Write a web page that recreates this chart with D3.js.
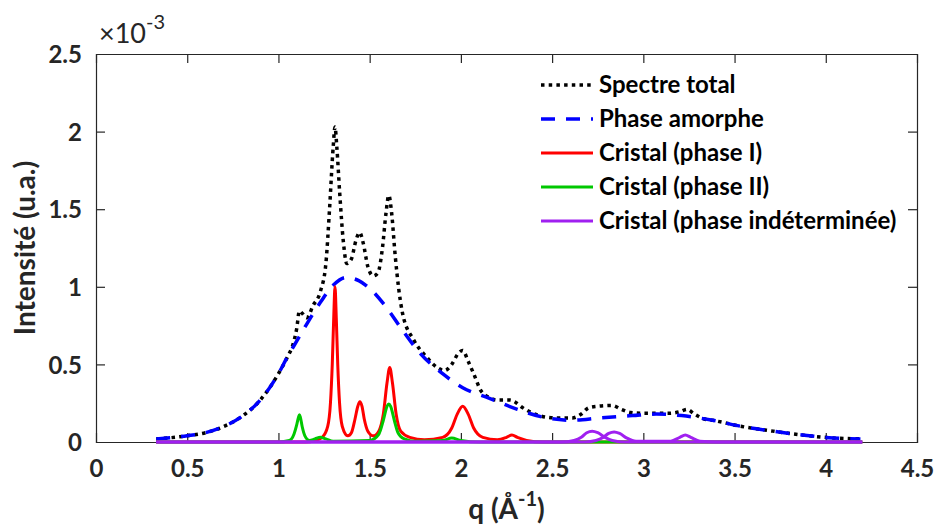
<!DOCTYPE html>
<html><head><meta charset="utf-8">
<script src="https://cdn.jsdelivr.net/npm/d3@7"></script>
<style>
body{margin:0;background:#fff;}
text{font-family:Lato,"Open Sans",sans-serif;}
</style></head>
<body><svg id="c" width="937" height="531"></svg>
<script>
// ---- data (q in Å^-1, intensity in 1e-3 a.u.) ----
const xTicks = [0,0.5,1,1.5,2,2.5,3,3.5,4,4.5];
const yTicks = [0,0.5,1,1.5,2,2.5];
const xTickLabels = ["0","0.5","1","1.5","2","2.5","3","3.5","4","4.5"];
const yTickLabels = ["0","0.5","1","1.5","2","2.5"];
const legendLabels = ["Spectre total","Phase amorphe","Cristal (phase I)","Cristal (phase II)","Cristal (phase indéterminée)"];

const totalSpectrum = [[0.33,0.02],[0.5,0.04],[0.6,0.06],[0.7,0.10],[0.8,0.165],[0.9,0.27],[1.0,0.44],[1.05,0.55],[1.08,0.63],[1.10,0.73],[1.115,0.845],[1.13,0.83],[1.155,0.80],[1.19,0.88],[1.23,0.97],[1.26,1.15],[1.28,1.50],[1.30,1.9],[1.31,2.03],[1.32,1.9],[1.336,1.60],[1.355,1.30],[1.375,1.15],[1.40,1.18],[1.425,1.30],[1.445,1.35],[1.465,1.28],[1.49,1.13],[1.52,1.07],[1.545,1.09],[1.57,1.25],[1.59,1.48],[1.605,1.59],[1.62,1.48],[1.64,1.20],[1.66,0.98],[1.68,0.83],[1.74,0.66],[1.81,0.55],[1.87,0.48],[1.91,0.46],[1.95,0.50],[1.985,0.57],[2.01,0.59],[2.04,0.52],[2.07,0.44],[2.11,0.33],[2.15,0.29],[2.20,0.27],[2.27,0.27],[2.30,0.255],[2.34,0.22],[2.43,0.17],[2.52,0.155],[2.61,0.155],[2.66,0.18],[2.70,0.22],[2.75,0.23],[2.83,0.235],[2.88,0.21],[2.93,0.19],[3.0,0.185],[3.13,0.185],[3.2,0.195],[3.24,0.21],[3.28,0.18],[3.33,0.15],[3.38,0.14],[3.54,0.10],[3.71,0.07],[3.87,0.045],[4.04,0.026],[4.19,0.02]];

const amorphous = [[0.33,0.02],[0.5,0.04],[0.6,0.06],[0.7,0.10],[0.8,0.165],[0.9,0.27],[1.0,0.44],[1.05,0.55],[1.10,0.65],[1.15,0.75],[1.23,0.90],[1.30,1.01],[1.37,1.06],[1.44,1.04],[1.49,1.0],[1.59,0.87],[1.68,0.72],[1.77,0.58],[1.90,0.44],[2.01,0.35],[2.16,0.28],[2.31,0.21],[2.45,0.16],[2.61,0.14],[2.76,0.155],[2.94,0.17],[3.07,0.18],[3.21,0.17],[3.38,0.14],[3.54,0.10],[3.71,0.07],[3.87,0.045],[4.04,0.026],[4.19,0.02]];

const phaseI = [[0.33,0],[1.15,0],[1.2,0.01],[1.24,0.03],[1.27,0.1],[1.285,0.25],[1.295,0.5],[1.303,0.8],[1.31,1.0],[1.317,0.8],[1.325,0.5],[1.335,0.25],[1.35,0.1],[1.38,0.04],[1.40,0.06],[1.42,0.15],[1.435,0.23],[1.446,0.26],[1.458,0.23],[1.47,0.15],[1.49,0.07],[1.52,0.04],[1.55,0.07],[1.575,0.18],[1.595,0.38],[1.61,0.48],[1.625,0.38],[1.645,0.18],[1.67,0.07],[1.72,0.03],[1.80,0.015],[1.9,0.03],[1.95,0.09],[1.98,0.18],[2.01,0.23],[2.04,0.18],[2.07,0.09],[2.12,0.03],[2.2,0.015],[2.25,0.03],[2.28,0.045],[2.31,0.03],[2.36,0.01],[2.45,0],[4.2,0]];

const phaseII = [[0.33,0],[1.0,0],[1.06,0.01],[1.085,0.05],[1.10,0.11],[1.11,0.16],[1.115,0.175],[1.12,0.16],[1.13,0.1],[1.145,0.04],[1.17,0.01],[1.2,0.02],[1.23,0.03],[1.26,0.02],[1.3,0.005],[1.5,0.01],[1.55,0.05],[1.575,0.14],[1.595,0.23],[1.605,0.245],[1.615,0.23],[1.635,0.14],[1.655,0.06],[1.67,0.035],[1.69,0.02],[1.75,0.005],[1.9,0.01],[1.95,0.025],[2.0,0.01],[2.1,0],[4.2,0]];

const phaseUndetA = [[0.33,0],[2.55,0],[2.62,0.01],[2.66,0.03],[2.69,0.06],[2.72,0.07],[2.75,0.06],[2.79,0.03],[2.83,0.01],[2.9,0],[4.2,0]];
const phaseUndetB = [[0.33,0],[2.68,0],[2.74,0.01],[2.78,0.03],[2.81,0.055],[2.84,0.065],[2.87,0.055],[2.91,0.025],[2.96,0.005],[3.15,0.005],[3.2,0.03],[3.23,0.045],[3.26,0.03],[3.31,0.005],[3.4,0],[4.2,0]];

// ---- layout ----
const svg = d3.select("#c");
const L=96, R=917, T=54, B=442;
const x = d3.scaleLinear().domain([0,4.5]).range([L,R]);
const y = d3.scaleLinear().domain([0,2.5]).range([B,T]);
const axisColor="#262626";

const gx = svg.append("g").attr("transform",`translate(0,${B})`)
  .call(d3.axisBottom(x).tickValues(xTicks).tickFormat((d,i)=>xTickLabels[i]).tickSize(-9).tickPadding(18));
const gx2 = svg.append("g").attr("transform",`translate(0,${T})`)
  .call(d3.axisTop(x).tickValues(xTicks).tickFormat("").tickSize(-9));
const gy = svg.append("g").attr("transform",`translate(${L},0)`)
  .call(d3.axisLeft(y).tickValues(yTicks).tickFormat((d,i)=>yTickLabels[i]).tickSize(-9).tickPadding(14));
const gy2 = svg.append("g").attr("transform",`translate(${R},0)`)
  .call(d3.axisRight(y).tickValues(yTicks).tickFormat("").tickSize(-9));
[gx,gx2,gy,gy2].forEach(g=>{
  g.select(".domain").attr("stroke",axisColor).attr("stroke-width",1.2);
  g.selectAll(".tick line").attr("stroke",axisColor).attr("stroke-width",1.2);
  g.selectAll(".tick text").attr("fill","#262626").style("font-family","Lato").style("font-weight","bold").style("font-size","24px");
});
gx.selectAll(".tick").filter(d=>d===0||d===4.5).select("line").remove();
gx2.selectAll(".tick").filter(d=>d===0||d===4.5).select("line").remove();
gy.selectAll(".tick").filter(d=>d===0||d===2.5).select("line").remove();
gy2.selectAll(".tick").filter(d=>d===0||d===2.5).select("line").remove();
gy.selectAll(".tick text").attr("dy","0.36em");

const line = d3.line().x(d=>x(d[0])).y(d=>y(d[1])).curve(d3.curveMonotoneX);

const styles = [
  {data:[totalSpectrum], color:"#000", w:3.5, dash:"3.5,4.2"},
  {data:[amorphous], color:"#0000ff", w:3.5, dash:"14,11"},
  {data:[phaseI], color:"#ff0000", w:3, dash:null},
  {data:[phaseII], color:"#00c800", w:3, dash:null},
  {data:[phaseUndetA, phaseUndetB], color:"#a020f0", w:3, dash:null}
];
const plot = svg.append("g");
styles.forEach(s=>{
  s.data.forEach(dd=>{
    plot.append("path").attr("d",line(dd)).attr("fill","none")
      .attr("stroke",s.color).attr("stroke-width",s.w)
      .attr("stroke-dasharray",s.dash).attr("stroke-linejoin","round");
  });
});

// legend
const legY = [85,119,153,187,221];
const lg = svg.append("g");
styles.forEach((s,i)=>{
  lg.append("line").attr("x1",541).attr("x2",593).attr("y1",legY[i]).attr("y2",legY[i])
    .attr("stroke",s.color).attr("stroke-width",s.w).attr("stroke-dasharray",s.dash);
  lg.append("text").attr("x",599).attr("y",legY[i]).attr("dy","0.35em")
    .style("font-weight","bold").style("font-size","24px").attr("fill","#000").text(legendLabels[i]);
});

// exponent label
const ex = svg.append("text").attr("x",99).attr("y",43).style("font-size","27px").attr("fill","#262626");
ex.append("tspan").text("×10");
ex.append("tspan").attr("dy",-14).style("font-size","20px").text("-3");

// axis titles
svg.append("text").attr("transform",`translate(35,${(T+B)/2}) rotate(-90)`)
  .attr("text-anchor","middle").style("font-weight","bold").style("font-size","28px").attr("fill","#262626")
  .text("Intensité (u.a.)");
const xt = svg.append("text").attr("x",(L+R)/2).attr("y",519).attr("text-anchor","middle")
  .style("font-weight","bold").style("font-size","28px").attr("fill","#262626");
xt.append("tspan").text("q (Å");
xt.append("tspan").attr("dy",-13).style("font-size","20px").text("-1");
xt.append("tspan").attr("dy",13).text(")");
</script></body></html>
